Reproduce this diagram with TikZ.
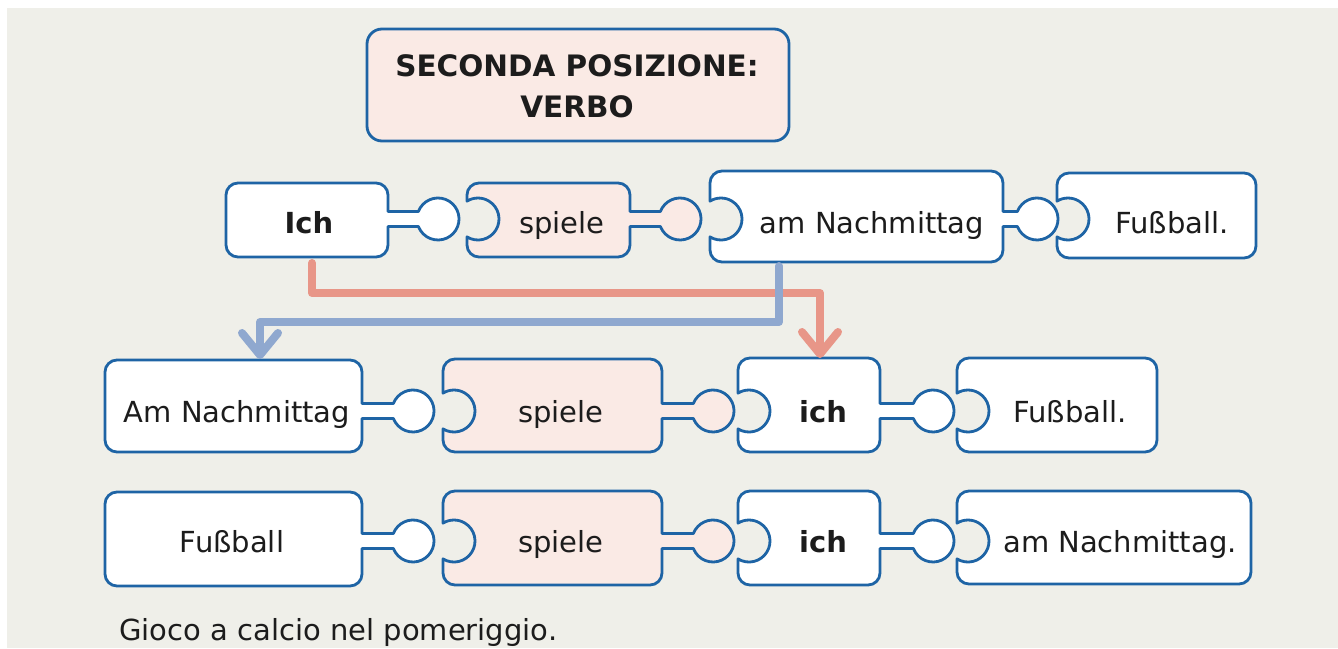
\documentclass[tikz,border=0pt]{standalone}
\usepackage{fontspec}
\setmainfont{DejaVu Sans}
\usetikzlibrary{calc}
\definecolor{bgc}{RGB}{239,239,233}
\definecolor{edgec}{RGB}{30,100,165}
\definecolor{pinkc}{RGB}{250,234,229}
\definecolor{redc}{RGB}{232,150,136}
\definecolor{bluec}{RGB}{143,168,207}
\definecolor{txtc}{RGB}{28,28,28}
\tikzset{
  piece/.style={draw=edgec, line width=2.8pt, line join=round},
  word/.style={inner sep=0pt, anchor=base, text=txtc, font=\fontsize{29}{34}\selectfont},
  movearrow/.style={line width=8pt, line cap=round, line join=round},
}
% knob only
\newcommand\pzK[7]{\path[piece,fill=#7] (#1+12,#2) -- (#3-12,#2) arc[start angle=-90,end angle=0,radius=12]
  -- (#3,#5-7.5) -- (#6-19.6,#5-7.5) arc[start angle=-159.1,end angle=159.1,radius=21] -- (#3,#5+7.5)
  -- (#3,#4-12) arc[start angle=0,end angle=90,radius=12] -- (#1+12,#4) arc[start angle=90,end angle=180,radius=12]
  -- (#1,#2+12) arc[start angle=180,end angle=270,radius=12] -- cycle;}
% socket and knob
\newcommand\pzSK[7]{\path[piece,fill=#7] (#1+12,#2) -- (#3-12,#2) arc[start angle=-90,end angle=0,radius=12]
  -- (#3,#5-7.5) -- (#6-19.6,#5-7.5) arc[start angle=-159.1,end angle=159.1,radius=21] -- (#3,#5+7.5)
  -- (#3,#4-12) arc[start angle=0,end angle=90,radius=12] -- (#1+12,#4) arc[start angle=90,end angle=180,radius=12]
  -- (#1,#5+17.9) arc[start angle=121.6,end angle=-121.6,radius=21]
  -- (#1,#2+12) arc[start angle=180,end angle=270,radius=12] -- cycle;}
% socket only
\newcommand\pzS[6]{\path[piece,fill=#6] (#1+12,#2) -- (#3-12,#2) arc[start angle=-90,end angle=0,radius=12]
  -- (#3,#4-12) arc[start angle=0,end angle=90,radius=12] -- (#1+12,#4) arc[start angle=90,end angle=180,radius=12]
  -- (#1,#5+17.9) arc[start angle=121.6,end angle=-121.6,radius=21]
  -- (#1,#2+12) arc[start angle=180,end angle=270,radius=12] -- cycle;}
\begin{document}
\begin{tikzpicture}[x=1pt,y=1pt,yscale=-1]
\useasboundingbox (0,0) rectangle (1338,648);
\fill[bgc] (7,8) rectangle (1338,648);

% title
\draw[piece, fill=pinkc, rounded corners=15pt] (367,29) rectangle (789,141);
\node[word, font=\fontsize{29.5}{34}\selectfont\bfseries] (title1) at (577,76) {SECONDA POSIZIONE:};
\node[word, font=\fontsize{29.5}{34}\selectfont\bfseries] (title2) at (577,117) {VERBO};

% row 1
\pzK{226}{183}{388}{257}{219}{438}{white}
\pzSK{467}{183}{630}{257}{219}{680}{pinkc}
\pzSK{710}{171}{1003}{262}{219}{1037}{white}
\pzS{1057}{173}{1256}{258}{219}{white}
\node[word, font=\fontsize{29}{34}\selectfont\bfseries] (r1a) at (309,233) {Ich};
\node[word] (r1b) at (562,233) {spiele};
\node[word] (r1c) at (872,233) {am Nachmittag};
\node[word] (r1d) at (1172,233) {Fußball.};

% row 2
\pzK{105}{360}{362}{452}{411}{413}{white}
\pzSK{443}{359}{662}{452}{411}{713}{pinkc}
\pzSK{738}{358}{880}{452}{411}{933}{white}
\pzS{957}{358}{1157}{452}{411}{white}
\node[word] (r2a) at (237,422) {Am Nachmittag};
\node[word] (r2b) at (561,422) {spiele};
\node[word, font=\fontsize{29}{34}\selectfont\bfseries] (r2c) at (823,422) {ich};
\node[word] (r2d) at (1070,422) {Fußball.};

% row 3
\pzK{105}{492}{362}{586}{541}{413}{white}
\pzSK{443}{491}{662}{585}{541}{713}{pinkc}
\pzSK{738}{491}{880}{585}{541}{933}{white}
\pzS{957}{491}{1251}{584}{541}{white}
\node[word] (r3a) at (232,552) {Fußball};
\node[word] (r3b) at (561,552) {spiele};
\node[word, font=\fontsize{29}{34}\selectfont\bfseries] (r3c) at (823,552) {ich};
\node[word] (r3d) at (1120,552) {am Nachmittag.};

% caption
\node[word, anchor=base west] (cap) at (119,640) {Gioco a calcio nel pomeriggio.};

% arrows
\coordinate (redS) at (312,263);
\coordinate (redM) at (820,293);
\coordinate (redE) at (820,354);
\coordinate (blueS) at (779,266);
\coordinate (blueM) at (260,322);
\coordinate (blueE) at (260,355);
\draw[movearrow, redc] (redS) |- (redM) -- ($(redE)+(0,-4)$);
\draw[movearrow, redc] ($(redE)+(-18,-22)$) -- (redE) -- ($(redE)+(18,-22)$);
\draw[movearrow, bluec] (blueS) |- (blueM) -- ($(blueE)+(0,-4)$);
\draw[movearrow, bluec] ($(blueE)+(-18,-22)$) -- (blueE) -- ($(blueE)+(18,-22)$);
\end{tikzpicture}
\end{document}
